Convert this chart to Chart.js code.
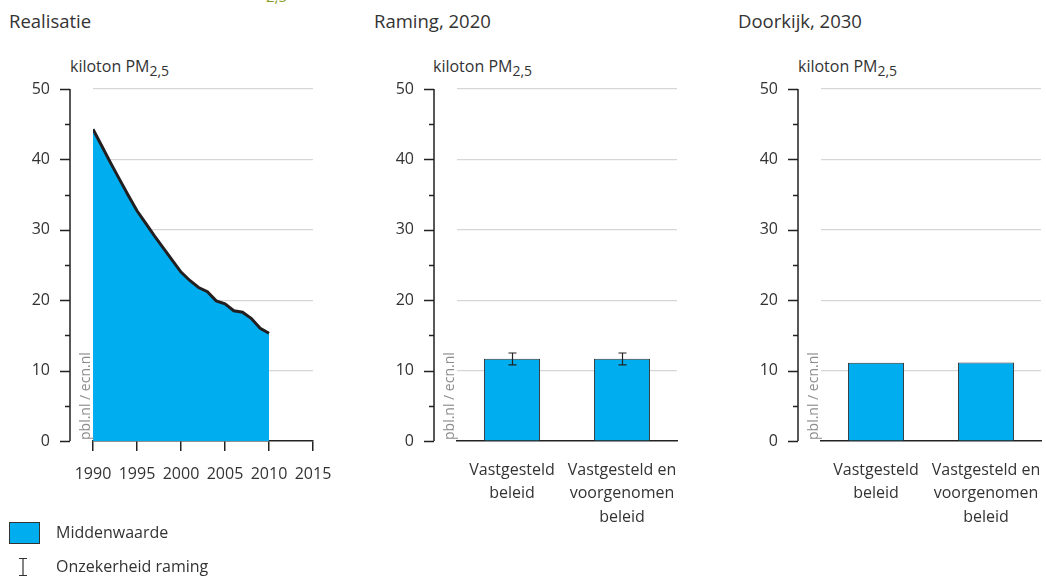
<!DOCTYPE html>
<html>
<head>
<meta charset="utf-8">
<script src="https://cdn.jsdelivr.net/npm/chart.js@4.4.1/dist/chart.umd.min.js"></script>
<style>
  html, body { margin: 0; padding: 0; background: #fff; }
  body { width: 1046px; height: 577px; position: relative; overflow: hidden;
         font-family: "Open Sans", sans-serif; color: #333; }
  .title { position: absolute; top: 9px; font-size: 18.5px; line-height: 24px; }
  .unit { position: absolute; top: 54px; font-size: 16px; line-height: 24px; }
  .unit sub { font-size: 14px; position: relative; top: 4px; vertical-align: baseline; }
  canvas { position: absolute; }
  .leg { position: absolute; font-size: 16px; line-height: 22px; }
  .box { position: absolute; left: 9px; top: 522px; width: 29px; height: 20px;
         background: #00aeef; border: 1px solid #333; }
  .clip { position: absolute; left: 266px; top: -14px; font-size: 15px; color: #8a9c22; }
</style>
</head>
<body>
<div class="clip">2,5</div>
<div class="title" style="left:9px">Realisatie</div>
<div class="title" style="left:374px">Raming, 2020</div>
<div class="title" style="left:738px">Doorkijk, 2030</div>
<div class="unit" style="left:70px">kiloton PM<sub>2,5</sub></div>
<div class="unit" style="left:433px">kiloton PM<sub>2,5</sub></div>
<div class="unit" style="left:798px">kiloton PM<sub>2,5</sub></div>

<canvas id="c1" width="349" height="480" style="left:0;top:60px"></canvas>
<canvas id="c2" width="345" height="480" style="left:363px;top:60px"></canvas>
<canvas id="c3" width="318" height="480" style="left:728px;top:60px"></canvas>

<div class="box"></div>
<div class="leg" style="left:56px;top:521px">Middenwaarde</div>
<svg style="position:absolute;left:17px;top:557px" width="12" height="20">
  <path d="M2 1.5H10M6 1.5V18.5M2 18.5H10" stroke="#333" stroke-width="1.2" fill="none"/>
</svg>
<div class="leg" style="left:56px;top:555px">Onzekerheid raming</div>

<script>
// realisatie, kiloton PM2,5
var years = [1990, 1991, 1992, 1993, 1994, 1995, 1996, 1997, 1998, 1999, 2000,
             2001, 2002, 2003, 2004, 2005, 2006, 2007, 2008, 2009, 2010];
var realisatie = [44.3, 41.9, 39.5, 37.2, 34.9, 32.7, 30.9, 29.1, 27.4, 25.7, 24.0,
                  22.8, 21.8, 21.2, 19.9, 19.5, 18.5, 18.3, 17.4, 16.0, 15.3];

var beleid = [['Vastgesteld', 'beleid'], ['Vastgesteld en', 'voorgenomen', 'beleid']];
var raming2020 = [11.7, 11.7];
var raming2020Low = [10.8, 10.8];
var raming2020High = [12.5, 12.5];
var doorkijk2030 = [11.1, 11.15];

var yTicks = [0, 10, 20, 30, 40, 50];
var blue = '#00aeef';
var ink = '#222';
var clear = 'rgba(0,0,0,0)';
var fontSpec = { family: '"Open Sans", sans-serif', size: 16 };

// y axis line sits a bit left of the plot area, with long and short ticks
var axisDecor = {
  id: 'axisDecor',
  afterDraw: function(chart) {
    var ctx = chart.ctx, y = chart.scales.y, a = chart.chartArea;
    var x0 = a.left - 23;
    ctx.save();
    ctx.strokeStyle = ink;
    ctx.lineWidth = 1.5;
    ctx.beginPath();
    ctx.moveTo(x0, y.getPixelForValue(50));
    ctx.lineTo(x0, y.getPixelForValue(0));
    for (var v = 0; v <= 50; v += 5) {
      var py = Math.round(y.getPixelForValue(v)) + 0.5;
      ctx.moveTo(x0 - (v % 10 === 0 ? 10 : 5), py);
      ctx.lineTo(x0, py);
    }
    ctx.stroke();
    // watermark
    ctx.translate(a.left - 7, a.bottom);
    ctx.rotate(-Math.PI / 2);
    ctx.fillStyle = '#8c8c8c';
    ctx.font = '14px "Open Sans", sans-serif';
    ctx.textBaseline = 'middle';
    ctx.fillText('pbl.nl / ecn.nl', 1, 0);
    ctx.restore();
  }
};

var errorBars = {
  id: 'errorBars',
  afterDatasetsDraw: function(chart, args, opts) {
    if (!opts.low) return;
    var ctx = chart.ctx, y = chart.scales.y;
    var meta = chart.getDatasetMeta(0);
    ctx.save();
    ctx.strokeStyle = ink;
    ctx.lineWidth = 1.2;
    meta.data.forEach(function(bar, i) {
      var x = Math.round(bar.x) + 0.5;
      var t = y.getPixelForValue(opts.high[i]), b = y.getPixelForValue(opts.low[i]);
      ctx.beginPath();
      ctx.moveTo(x - 4, t); ctx.lineTo(x + 4, t);
      ctx.moveTo(x, t); ctx.lineTo(x, b);
      ctx.moveTo(x - 4, b); ctx.lineTo(x + 4, b);
      ctx.stroke();
    });
    ctx.restore();
  }
};

function yScale(width) {
  return {
    min: 0, max: 50,
    afterFit: function(s) { s.width = width; },
    ticks: {
      stepSize: 5, padding: 3, color: '#333', font: fontSpec,
      callback: function(v) { return yTicks.indexOf(v) >= 0 ? v : ''; }
    },
    grid: {
      drawTicks: true,
      tickLength: 40,
      tickColor: clear,
      lineWidth: 1.2,
      color: function(c) {
        var v = c.tick ? c.tick.value : 0;
        return (v > 0 && v % 10 === 0) ? '#d6d6d6' : clear;
      }
    },
    border: { display: false }
  };
}

var common = {
  responsive: false,
  animation: false,
  plugins: { legend: { display: false }, tooltip: { enabled: false } }
};

new Chart(document.getElementById('c1'), {
  type: 'line',
  data: {
    datasets: [{
      data: years.map(function(yr, i) { return { x: yr, y: realisatie[i] }; }),
      fill: 'origin',
      backgroundColor: blue,
      borderColor: '#231f20',
      borderWidth: 3,
      pointRadius: 0,
      tension: 0
    }]
  },
  options: Object.assign({}, common, {
    layout: { padding: { top: 29, right: 36, bottom: 0, left: 0 } },
    scales: {
      x: {
        type: 'linear', min: 1990, max: 2015,
        afterFit: function(s) { s.height = 99; },
        ticks: { stepSize: 5, padding: 14, color: '#333', font: fontSpec,
                 callback: function(v) { return String(v); } },
        grid: { drawOnChartArea: false, drawTicks: true, tickLength: 10, color: ink, lineWidth: 1.5 },
        border: { display: true, color: ink, width: 1.5 }
      },
      y: yScale(93)
    }
  }),
  plugins: [axisDecor]
});

function barChart(id, values, yWidth, padRight, err) {
  return new Chart(document.getElementById(id), {
    type: 'bar',
    data: {
      labels: beleid,
      datasets: [{
        data: values,
        backgroundColor: blue,
        borderColor: '#333',
        borderWidth: 1,
        barPercentage: 0.51,
        categoryPercentage: 1
      }]
    },
    options: Object.assign({}, common, {
      layout: { padding: { top: 29, right: padRight, bottom: 0, left: 0 } },
      plugins: { legend: { display: false }, tooltip: { enabled: false }, errorBars: err || {} },
      scales: {
        x: {
          afterFit: function(s) { s.height = 99; },
          ticks: { padding: 0, color: '#333', maxRotation: 0, autoSkip: false,
                   font: { family: fontSpec.family, size: 16, lineHeight: 1.45 } },
          grid: { drawOnChartArea: false, drawTicks: true, tickLength: 18, tickColor: clear },
          border: { display: true, color: ink, width: 1.5 }
        },
        y: yScale(yWidth)
      }
    }),
    plugins: [axisDecor, errorBars]
  });
}

barChart('c2', raming2020, 94, 31, { low: raming2020Low, high: raming2020High });
barChart('c3', doorkijk2030, 93, 5);
</script>
</body>
</html>
